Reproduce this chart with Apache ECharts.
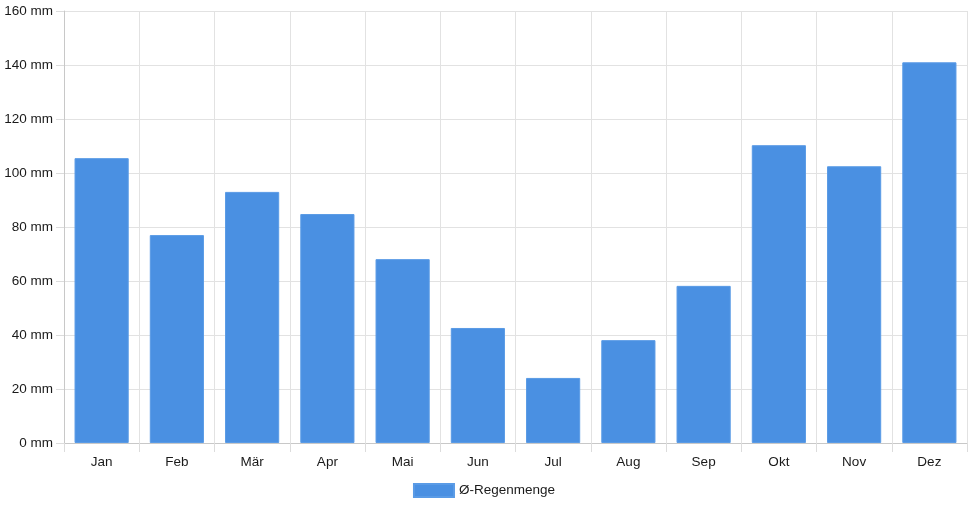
<!DOCTYPE html>
<html>
<head>
<meta charset="utf-8">
<script src="https://cdn.jsdelivr.net/npm/echarts@6/dist/echarts.min.js"></script>
<style>
  html, body { margin: 0; padding: 0; background: #fff; }
  #chart { width: 968px; height: 508px; }
</style>
</head>
<body>
<div id="chart"></div>
<script>
// Monate und mittlere Regenmenge (mm)
var months = ['Jan', 'Feb', 'Mär', 'Apr', 'Mai', 'Jun', 'Jul', 'Aug', 'Sep', 'Okt', 'Nov', 'Dez'];
var regen = [105.5, 77.0, 93.0, 84.8, 68.1, 42.6, 24.1, 38.1, 58.2, 110.3, 102.5, 141.0];
var seriesName = 'Ø-Regenmenge';

var chart = echarts.init(document.getElementById('chart'));

var option = {
    animation: false,
    textStyle: { fontFamily: 'Liberation Sans, Arial, sans-serif' },
    grid: {
        left: 64,
        right: 1,
        top: 11,
        bottom: 65,
        containLabel: false
    },
    legend: {
        bottom: 5,
        left: 'center',
        itemWidth: 40,
        itemHeight: 13,
        itemGap: 10,
        icon: 'rect',
        data: [seriesName],
        textStyle: { fontSize: 13.5, color: '#1a1a1a' }
    },
    xAxis: {
        type: 'category',
        data: months,
        axisLine: { lineStyle: { color: '#c8c8c8' } },
        axisTick: { show: true, length: 9, lineStyle: { color: '#dcdcdc' } },
        axisLabel: { color: '#1a1a1a', fontSize: 13.5, margin: 12 },
        splitLine: { show: true, lineStyle: { color: '#e2e2e2' } }
    },
    yAxis: {
        type: 'value',
        min: 0,
        max: 160,
        interval: 20,
        axisLine: { show: true, lineStyle: { color: '#c8c8c8' } },
        axisTick: { show: true, length: 8, lineStyle: { color: '#dcdcdc' } },
        axisLabel: {
            color: '#1a1a1a',
            fontSize: 13.5,
            margin: 11,
            formatter: function (v) { return v + ' mm'; }
        },
        splitLine: { show: true, lineStyle: { color: '#e2e2e2' } }
    },
    series: [
        {
            name: seriesName,
            type: 'bar',
            data: regen,
            barWidth: '72%',
            itemStyle: {
                color: '#4a90e2',
                borderColor: '#5a9be6',
                borderWidth: 1
            }
        }
    ]
};

chart.setOption(option);
</script>
</body>
</html>
